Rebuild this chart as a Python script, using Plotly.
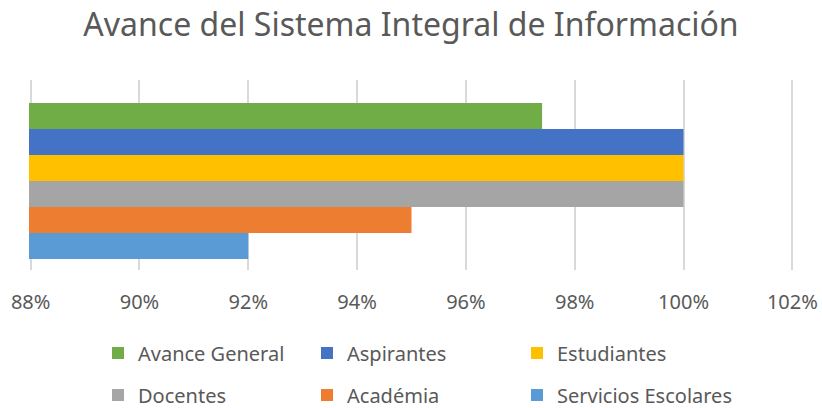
import plotly.graph_objects as go

# one category, six series (values in %)
category = ["Avance"]
series = ["Avance General", "Aspirantes", "Estudiantes",
          "Docentes", "Académia", "Servicios Escolares"]
values = [97.4, 100, 100, 100, 95, 92]
colors = ["#70AD47", "#4472C4", "#FFC000", "#A5A5A5", "#ED7D31", "#5B9BD5"]

tick_vals = [88, 90, 92, 94, 96, 98, 100, 102]
tick_text = ["88%", "90%", "92%", "94%", "96%", "98%", "100%", "102%"]

FONT = "Noto Sans"
TXT = "#595959"

# legend grid: 3 columns x 2 rows (pixel positions in the 822x408 page)
col_x = [98, 307, 517]
row_y = [353, 395]

fig = go.Figure()
legends = {}
for i, (name, v, c) in enumerate(zip(series, values, colors)):
    key = "legend" if i == 0 else "legend%d" % (i + 1)
    fig.add_trace(go.Bar(
        y=category, x=[v], name=name, orientation="h",
        marker=dict(color=c, line=dict(width=0)),
        base=0,
        legend=key,
    ))
    legends[key] = dict(orientation="h", xref="container", yref="container",
                        x=col_x[i % 3] / 822, y=1 - row_y[i // 3] / 408,
                        xanchor="left", yanchor="middle",
                        font=dict(family=FONT, size=20, color=TXT),
                        itemclick=False, bgcolor="rgba(0,0,0,0)")

fig.update_layout(
    width=822, height=408,
    title=dict(text="Avance del Sistema Integral de Información",
               x=0.5, xanchor="center", y=0.94, yanchor="middle",
               yref="container",
               font=dict(family=FONT, size=32, color=TXT)),
    barmode="group", bargap=0.18, bargroupgap=0,
    plot_bgcolor="white", paper_bgcolor="white",
    margin=dict(l=29, r=28, t=80, b=138, autoexpand=False),
    xaxis=dict(range=[87.97, 102.03], tickvals=tick_vals, ticktext=tick_text,
               showgrid=True, gridcolor="#D9D9D9", gridwidth=2,
               zeroline=False, showline=False, automargin=False,
               ticklabelstandoff=18,
               tickfont=dict(family=FONT, size=20, color=TXT), ticks=""),
    yaxis=dict(range=[0.468, -0.531], showticklabels=False, showgrid=False,
               zeroline=False, showline=False, automargin=False),
    showlegend=True,
    **legends,
)

# page body has a default 8px margin; drop it so the chart sits at 0,0
fig.write_html("out.html", config={"displayModeBar": False},
               post_script="document.body.style.margin='0';")
